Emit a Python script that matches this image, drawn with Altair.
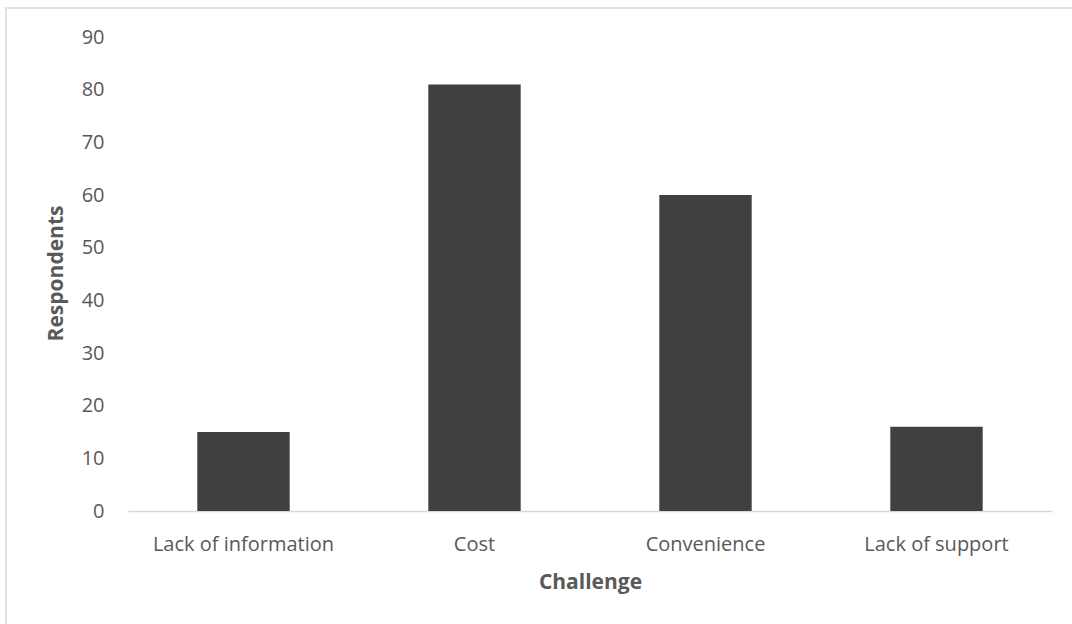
import altair as alt
import pandas as pd

# Survey results: number of respondents citing each challenge
challenges = ["Lack of information", "Cost", "Convenience", "Lack of support"]
respondents = [15, 81, 60, 16]
y_ticks = [0, 10, 20, 30, 40, 50, 60, 70, 80, 90]

df = pd.DataFrame({"Challenge": challenges, "Respondents": respondents})

FONT = "Open Sans"
TEXT_GREY = "#595959"
LINE_GREY = "#d9d9d9"

bars = alt.Chart(df).mark_bar(color="#404040").encode(
    x=alt.X(
        "Challenge:N",
        sort=challenges,
        scale=alt.Scale(paddingInner=0.6, paddingOuter=0.3),
        axis=alt.Axis(
            title="Challenge",
            labelAngle=0,
            labelLimit=400,
            ticks=False,
            tickSize=0,
            labelPadding=39,
            labelBaseline="alphabetic",
            labelFontSize=20,
            labelColor=TEXT_GREY,
            labelFont=FONT,
            domainColor=LINE_GREY,
            domainWidth=1.5,
            titleFont=FONT,
            titleFontSize=21,
            titleFontWeight="bold",
            titleColor=TEXT_GREY,
            titleBaseline="alphabetic",
            titleY=77,
        ),
    ),
    y=alt.Y(
        "Respondents:Q",
        scale=alt.Scale(domain=[0, 90], nice=False),
        axis=alt.Axis(
            title="Respondents",
            values=y_ticks,
            grid=False,
            ticks=False,
            tickSize=0,
            domain=False,
            labelPadding=24,
            labelFontSize=20,
            labelColor=TEXT_GREY,
            labelFont=FONT,
            titleFont=FONT,
            titleFontSize=21,
            titleFontWeight="bold",
            titleColor=TEXT_GREY,
            titleAngle=-90,
            titleAlign="center",
            titleBaseline="alphabetic",
            titleX=-66,
            titleY=236,
        ),
    ),
)

# light frame around the chart area
frame = alt.Chart(alt.Data(values=[{}])).mark_rect(
    fill=None, stroke=LINE_GREY, strokeWidth=1.5
).encode(
    x=alt.value(-122),
    x2=alt.value(952),
    y=alt.value(-29),
    y2=alt.value(603),
)

chart = alt.layer(frame, bars).properties(
    width=924,
    height=474,
    padding={"left": 128, "top": 37, "right": 20, "bottom": 113},
    autosize=alt.AutoSizeParams(type="none"),
    background="white",
).configure_view(stroke=None)

chart.save("out.html", embed_options={"renderer": "svg", "actions": False})
